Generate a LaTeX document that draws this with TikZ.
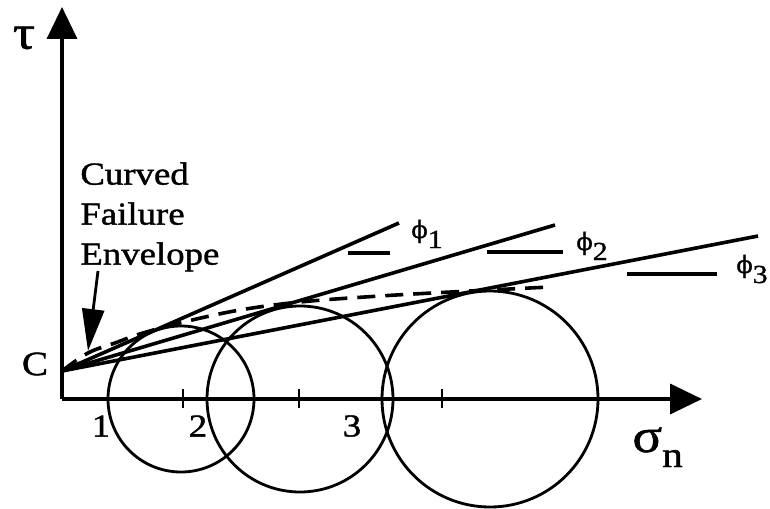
\documentclass[tikz,border=0pt]{standalone}
\usepackage{fontspec}
\setmainfont{Liberation Serif}[FakeStretch=1.15, FakeBold=1.2]
\newfontfamily\phifont{DejaVu Serif}[FakeBold=1.2]
\usetikzlibrary{arrows.meta,calc}

\begin{document}
\begin{tikzpicture}[
  x=0.5pt, y=-0.5pt,
  every node/.style={font=\fontsize{16}{20}\selectfont, inner sep=0pt},
  axis/.style={-{Triangle[length=16pt, width=15pt]}, line width=1.8pt},
  envline/.style={line width=1.8pt},
  mohr/.style={line width=1.4pt},
  pointer/.style={-{Triangle[length=21pt, width=11pt]}, line width=1.4pt},
  bigsym/.style={font=\fontsize{24}{26}\selectfont},
  philbl/.style={font=\fontsize{13}{15}\selectfont, anchor=base west}
]
\useasboundingbox (0,0) rectangle (770,508);

\coordinate (O) at (62,399);
\coordinate (ytip) at (62,7);
\coordinate (xtip) at (702,399);
\coordinate (c) at (62,371);
\coordinate (e1) at (399,223);
\coordinate (e2) at (555,225);
\coordinate (e3) at (758,236);

% axes
\draw[axis] (O) -- (ytip);
\draw[axis] (O) -- (xtip);
\node[bigsym] (tau) at (24,38) {τ};
\node[bigsym, anchor=base west] (sig) at (632,452) {σ\raisebox{-7.5pt}{\fontsize{18}{18}\selectfont n}};
\node[font=\fontsize{17}{20}\selectfont] (clbl) at (35,364) {C};

% Mohr circles
\draw[mohr] (181,399) circle[radius=36.5pt];
\draw[mohr] (300,399) circle[radius=46.5pt];
\draw[mohr] (490,399) circle[radius=54pt];
\foreach \tx in {183,299,442}
  \draw[mohr] (\tx,389) -- (\tx,408);
\node (n1) at (101,426) {1};
\node (n2) at (198,426) {2};
\node (n3) at (352,426) {3};

% envelopes
\draw[envline] (c) -- (e1);
\draw[envline] (c) -- (e2);
\draw[envline] (c) -- (e3);
\draw[envline, dash pattern=on 9pt off 5pt] plot[smooth, tension=0.6] coordinates {(62,371) (88,353) (115,343) (143,333) (188,321) (240,310) (300,302) (380,296) (470,291) (550,287)};

\node[philbl] (phi1) at (411,238) {{\phifont\fontsize{12}{14}\selectfont ϕ}\raisebox{-5pt}{1}};
\node[philbl] (phi2) at (576,250) {{\phifont\fontsize{12}{14}\selectfont ϕ}\raisebox{-5pt}{2}};
\node[philbl] (phi3) at (736,273) {{\phifont\fontsize{12}{14}\selectfont ϕ}\raisebox{-5pt}{3}};
\draw[envline] (348,253) -- (390,253);
\draw[envline] (487,252) -- (563,252);
\draw[envline] (627,274) -- (717,274);

% curved envelope label
\node[anchor=north west, align=left] (cfe) at (80,162) {Curved\\Failure\\Envelope};
\coordinate (cstart) at (98,271);
\coordinate (ctip) at (88,351);
\draw[pointer] (cstart) -- (ctip);
\end{tikzpicture}
\end{document}
